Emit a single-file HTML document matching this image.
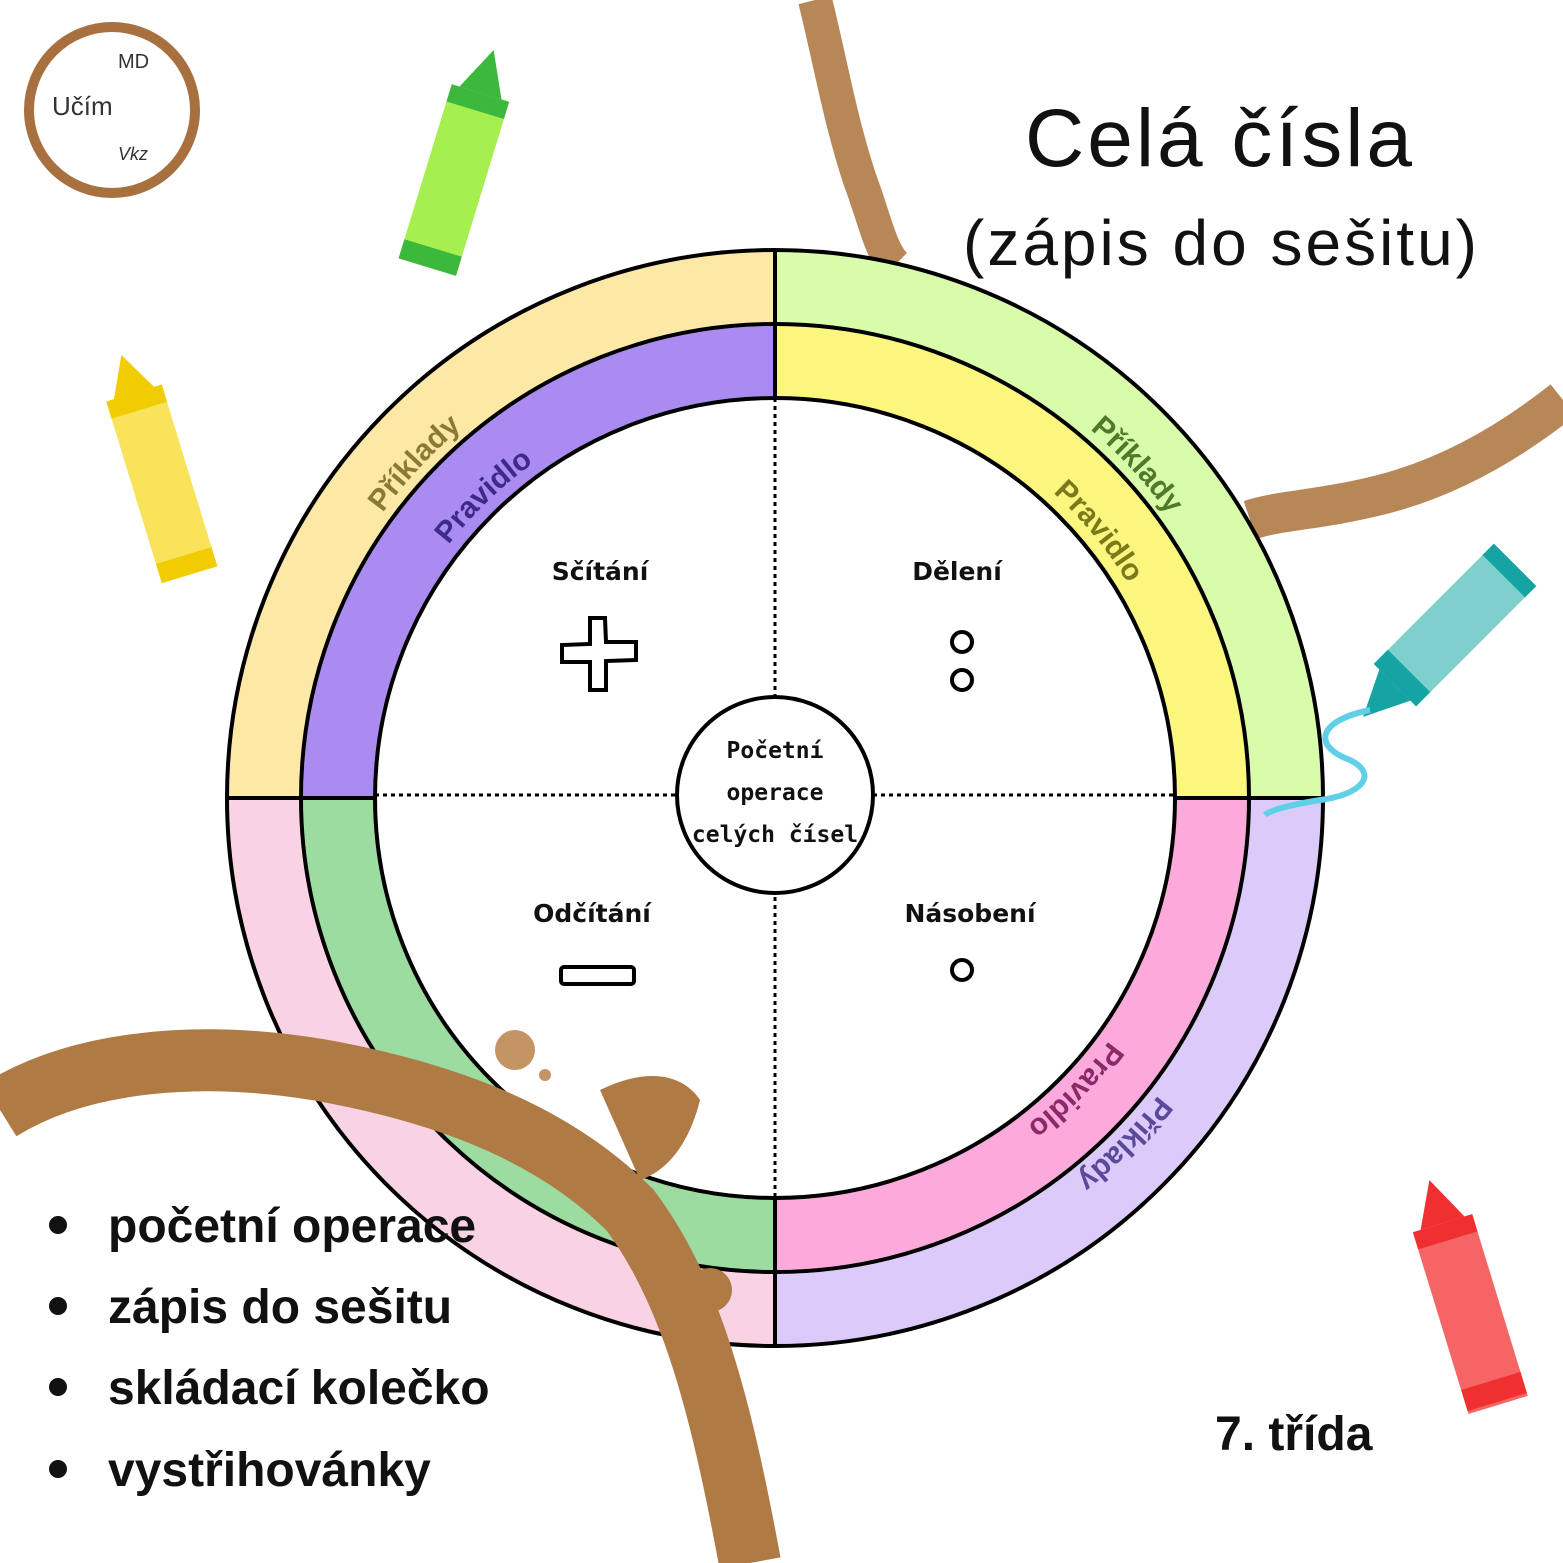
<!DOCTYPE html>
<html><head><meta charset="utf-8"><style>
html,body{margin:0;padding:0;background:#fff}
svg{display:block}
</style></head><body>
<svg width="1563" height="1563" viewBox="0 0 1563 1563" xmlns="http://www.w3.org/2000/svg" font-family="Liberation Sans, DejaVu Sans, sans-serif">
<rect width="1563" height="1563" fill="#fff"/>
<path d="M815 0 C830 60 840 120 860 180 C875 220 880 250 895 265" stroke="#b07a45" stroke-width="34" fill="none" opacity="0.9"/>
<path d="M1563 400 C1500 450 1440 480 1380 495 C1320 510 1280 510 1250 520" stroke="#b07a45" stroke-width="40" fill="none" opacity="0.9"/>
<g fill="none" stroke-width="70" stroke-linecap="butt">
<path d="M264 798 A511 511 0 0 1 775 287" stroke="#fde8a6"/>
<path d="M775 287 A511 511 0 0 1 1286 798" stroke="#d9fcab"/>
<path d="M1286 798 A511 511 0 0 1 775 1309" stroke="#dccbfa"/>
<path d="M775 1309 A511 511 0 0 1 264 798" stroke="#f9d3e3"/>
<path d="M338 798 A437 437 0 0 1 775 361" stroke="#a98bf1"/>
<path d="M775 361 A437 437 0 0 1 1212 798" stroke="#fbf67e"/>
<path d="M1212 798 A437 437 0 0 1 775 1235" stroke="#fcaadb"/>
<path d="M775 1235 A437 437 0 0 1 338 798" stroke="#9cdca1"/>
</g>
<g fill="none" stroke="#000">
<circle cx="775" cy="798" r="548" stroke-width="4"/>
<circle cx="775" cy="798" r="474" stroke-width="4"/>
<circle cx="775" cy="798" r="400" stroke-width="4"/>
<line x1="227" y1="798" x2="375" y2="798" stroke-width="4"/>
<line x1="1175" y1="798" x2="1323" y2="798" stroke-width="4"/>
<line x1="775" y1="250" x2="775" y2="398" stroke-width="4"/>
<line x1="775" y1="1198" x2="775" y2="1346" stroke-width="4"/>
<line x1="375" y1="795" x2="677" y2="795" stroke-width="3" stroke-dasharray="4 4"/>
<line x1="873" y1="795" x2="1175" y2="795" stroke-width="3" stroke-dasharray="4 4"/>
<line x1="775" y1="398" x2="775" y2="697" stroke-width="3" stroke-dasharray="4 4"/>
<line x1="775" y1="897" x2="775" y2="1198" stroke-width="3" stroke-dasharray="4 4"/>
<circle cx="775" cy="795" r="98" stroke-width="4" fill="#fff"/>
</g>
<defs>
<path id="o1" d="M290 798 A485 485 0 0 1 775 313"/>
<path id="o2" d="M775 313 A485 485 0 0 1 1260 798"/>
<path id="i1" d="M362 798 A413 413 0 0 1 775 385"/>
<path id="i2" d="M775 385 A413 413 0 0 1 1188 798"/>
</defs>
<g font-weight="bold" font-size="30">
<text fill="#8a7b33"><textPath href="#o1" startOffset="40%">Příklady</textPath></text>
<text fill="#3d2a8a"><textPath href="#i1" startOffset="42%">Pravidlo</textPath></text>
<text fill="#4e7a2a"><textPath href="#o2" startOffset="45%">Příklady</textPath></text>
<text fill="#7a7a1a"><textPath href="#i2" startOffset="47%">Pravidlo</textPath></text>
<text fill="#5b4a9a" transform="rotate(180 775 798)"><textPath href="#o1" startOffset="42%">Příklady</textPath></text>
<text fill="#8a2a6a" transform="rotate(180 775 798)"><textPath href="#i1" startOffset="40%">Pravidlo</textPath></text>
</g>
<g font-family="DejaVu Sans Mono, Liberation Mono, monospace" font-weight="bold" font-size="23" text-anchor="middle" fill="#111">
<text x="775" y="758">Početní</text>
<text x="775" y="800">operace</text>
<text x="775" y="842">celých čísel</text>
</g>
<g font-family="DejaVu Sans, sans-serif" font-weight="bold" font-size="25" text-anchor="middle" fill="#111">
<text x="600" y="580">Sčítání</text>
<text x="957" y="580">Dělení</text>
<text x="592" y="922">Odčítání</text>
<text x="970" y="922">Násobení</text>
</g>
<g fill="none" stroke="#000" stroke-width="4">
<path d="M590 618 L605 618 L606 642 L636 642 L636 660 L606 661 L606 690 L590 690 L590 662 L562 662 L562 645 L590 644 Z"/>
<rect x="561" y="967" width="73" height="17" rx="3"/>
<circle cx="962" cy="642" r="10"/>
<circle cx="962" cy="680" r="10"/>
<circle cx="962" cy="970" r="10"/>
</g>
<path d="M0 1110 C80 1060 200 1050 320 1070 C460 1095 560 1140 630 1210 C690 1290 720 1400 750 1563" stroke="#b07a45" stroke-width="62" fill="none"/>
<path d="M600 1090 C640 1070 680 1070 700 1100 C690 1140 670 1170 640 1180 Z" fill="#b07a45"/>
<circle cx="515" cy="1050" r="20" fill="#c49465"/>
<circle cx="545" cy="1075" r="6" fill="#c49465"/>
<circle cx="710" cy="1290" r="22" fill="#b07a45"/>
<circle cx="112" cy="110" r="83" fill="none" stroke="#a8703f" stroke-width="10"/>
<text x="52" y="115" font-size="26" fill="#333">Učím</text>
<text x="118" y="68" font-size="20" fill="#333">MD</text>
<text x="118" y="160" font-size="18" fill="#333" font-style="italic">Vkz</text>
<text x="1025" y="166" font-size="82" fill="#111" letter-spacing="3">Celá čísla</text>
<text x="963" y="265" font-size="64" fill="#111" letter-spacing="3">(zápis do sešitu)</text>
<g font-size="48" fill="#111" font-weight="bold">
<circle cx="58" cy="1225" r="9" fill="#111"/><text x="108" y="1242">početní operace</text>
<circle cx="58" cy="1306" r="9" fill="#111"/><text x="108" y="1323">zápis do sešitu</text>
<circle cx="58" cy="1387" r="9" fill="#111"/><text x="108" y="1404">skládací kolečko</text>
<circle cx="58" cy="1469" r="9" fill="#111"/><text x="108" y="1486">vystřihovánky</text>
<text x="1215" y="1450">7. třída</text>
</g>
<g transform="rotate(17 460 160)">
<rect x="430" y="90" width="60" height="180" fill="#a5ef4f"/>
<rect x="430" y="90" width="60" height="18" fill="#3cb93c"/><rect x="430" y="252" width="60" height="20" fill="#3cb93c"/>
<path d="M438 90 L460 45 L482 90Z" fill="#3cb93c"/>
</g>
<g transform="rotate(-17 155 465)">
<rect x="127" y="390" width="58" height="190" fill="#f8e35a"/>
<rect x="127" y="390" width="58" height="18" fill="#f0cc00"/><rect x="127" y="560" width="58" height="20" fill="#f0cc00"/>
<path d="M135 390 L155 350 L177 390Z" fill="#f0cc00"/>
</g>
<g transform="rotate(45 1455 625)">
<rect x="1425" y="540" width="60" height="170" fill="#7fcfcc"/>
<rect x="1425" y="540" width="60" height="16" fill="#16a3a3"/><rect x="1425" y="690" width="60" height="20" fill="#16a3a3"/>
<path d="M1433 710 L1455 755 L1477 710Z" fill="#16a3a3"/>
</g>
<path d="M1370 710 C1320 720 1310 745 1350 760 C1380 775 1360 795 1320 800 C1290 805 1270 810 1265 815" stroke="#5fd0e8" stroke-width="6" fill="none"/>
<g transform="rotate(-17 1465 1300)">
<rect x="1435" y="1220" width="62" height="190" fill="#f56565"/>
<rect x="1435" y="1220" width="62" height="18" fill="#f03030"/><rect x="1435" y="1385" width="62" height="22" fill="#f03030"/>
<path d="M1443 1220 L1466 1175 L1489 1220Z" fill="#f03030"/>
</g>
</svg>
</body></html>
